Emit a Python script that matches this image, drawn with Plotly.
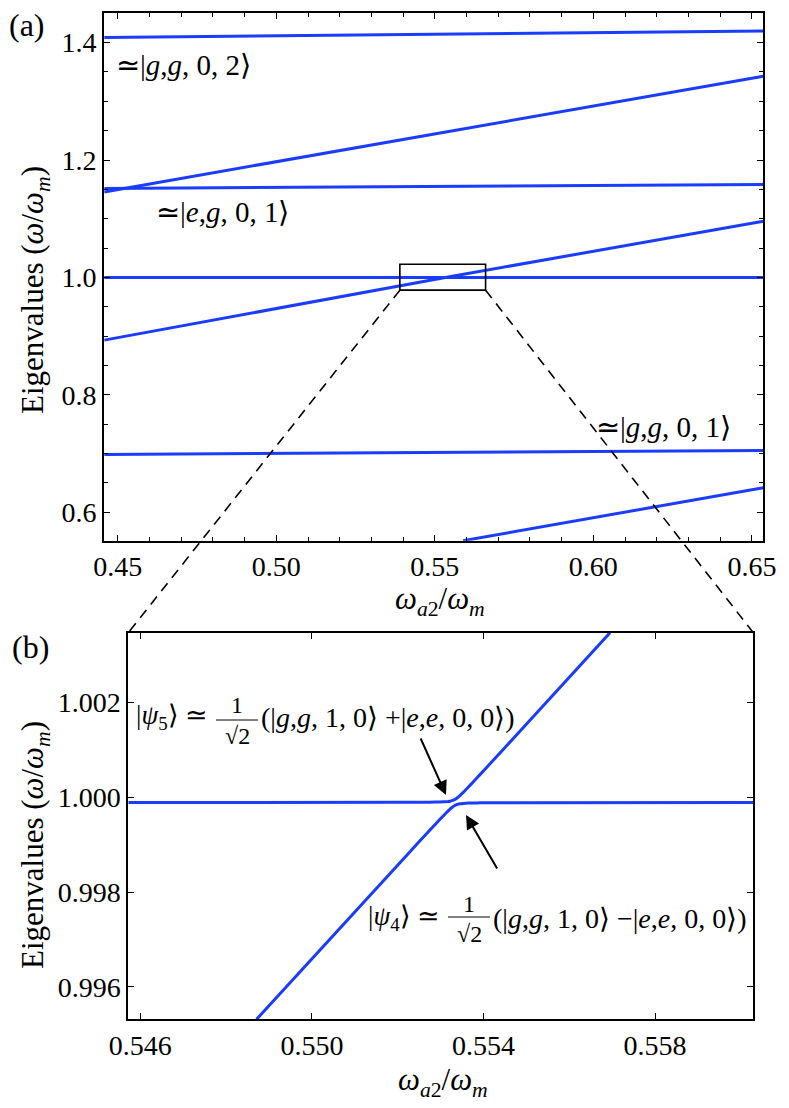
import plotly.graph_objects as go

W, H = 789, 1108

# ---------------- data ----------------
# panel (a): eigenvalue branches vs omega_a2/omega_m
xa_ends = [0.4457, 0.6536]
a_l1 = [1.4085, 1.4197]            # ~|g,g,0,2>
a_l2 = [1.1457, 1.3426]            # rising upper
a_l3 = [1.1515, 1.1583]            # ~|e,g,0,1>
a_l4 = [1.0000, 1.0000]            # flat 1.0
a_l5_x = [0.4457, 0.5533, 0.6536]
a_l5 = [0.8933, 1.0000, 1.0958]    # rising through 1.0
a_l6 = [0.6987, 0.7055]            # ~|g,g,0,1>
a_l7_x = [0.5589, 0.6536]
a_l7 = [0.5517, 0.6419]            # lower rising

a_xticks = [0.45, 0.50, 0.55, 0.60, 0.65]
a_yticks = [0.6, 0.8, 1.0, 1.2, 1.4]
a_xrange = [0.4457, 0.6536]
a_yrange = [0.5517, 1.4499]
zoom_box_x = [0.53896, 0.5660]
zoom_box_y = [0.97838, 1.02264]

# panel (b): avoided crossing
b_up_x = [0.54572, 0.552052, 0.552519, 0.552752, 0.552985, 0.553172, 0.553219,
          0.553265, 0.553331, 0.553359, 0.553405, 0.553452, 0.553529, 0.553592,
          0.553685, 0.553802, 0.553918, 0.554152, 0.554695, 0.556950]
b_up_y = [0.999888, 0.999891, 0.999893, 0.999895, 0.999899, 0.999910, 0.999916,
          0.999926, 0.999951, 0.999966, 0.999998, 1.000035, 1.000102, 1.000161,
          1.000249, 1.000362, 1.000476, 1.000705, 1.001240, 1.003469]
b_lo_x = [0.54871, 0.552052, 0.552519, 0.552752, 0.552985, 0.553172, 0.553219,
          0.553265, 0.553331, 0.553359, 0.553405, 0.553452, 0.553529, 0.553592,
          0.553685, 0.553802, 0.553918, 0.554152, 0.554695, 0.56029]
b_lo_y = [0.995316, 0.998619, 0.999080, 0.999308, 0.999534, 0.999708, 0.999748,
          0.999784, 0.999825, 0.999837, 0.999851, 0.999860, 0.999869, 0.999873,
          0.999877, 0.999879, 0.999881, 0.999883, 0.999885, 0.999888]
b_xticks = [0.546, 0.550, 0.554, 0.558]
b_yticks = [0.996, 0.998, 1.000, 1.002]
b_xrange = [0.54572, 0.56029]
b_yrange = [0.995316, 1.003469]

# ---------------- layout geometry (pixels) ----------------
A_PX = (104.2, 763.3, 13.3, 540.7)   # left, right, top, bottom
B_PX = (128.3, 753.3, 632.7, 1019.3)

def px(x):
    return x / W

def py(y):
    return 1 - y / H

def dom(box):
    l, r, t, b = box
    return [px(l), px(r)], [py(b), py(t)]

a_xd, a_yd = dom(A_PX)
b_xd, b_yd = dom(B_PX)

BLUE = "#1a3cff"
FONT = "Liberation Serif"
line_style = dict(color=BLUE, width=3)

fig = go.Figure()
for xs, ys in [(xa_ends, a_l1), (xa_ends, a_l2), (xa_ends, a_l3), (xa_ends, a_l4),
               (a_l5_x, a_l5), (xa_ends, a_l6), (a_l7_x, a_l7)]:
    fig.add_trace(go.Scatter(x=xs, y=ys, mode="lines", line=line_style,
                             xaxis="x", yaxis="y", showlegend=False, hoverinfo="skip"))
for xs, ys in [(b_up_x, b_up_y), (b_lo_x, b_lo_y)]:
    fig.add_trace(go.Scatter(x=xs, y=ys, mode="lines",
                             line=dict(color=BLUE, width=3, shape="spline", smoothing=0.3),
                             xaxis="x2", yaxis="y2", showlegend=False, hoverinfo="skip"))

axis_common = dict(showline=True, linecolor="black", linewidth=2, mirror="ticks",
                   ticks="inside", ticklen=6, tickwidth=1, tickcolor="black",
                   showgrid=False, zeroline=False,
                   tickfont=dict(family=FONT, size=28, color="black"), automargin=False)

fig.update_layout(
    width=W, height=H, template="none",
    margin=dict(l=0, r=0, t=0, b=0),
    paper_bgcolor="white", plot_bgcolor="white",
    showlegend=False,
    font=dict(family=FONT, size=26, color="black"),
    xaxis=dict(domain=a_xd, range=a_xrange, tickvals=a_xticks, tickformat=".2f",
               anchor="y", minor=dict(dtick=0.01, tick0=0.45, ticks="inside", ticklen=4,
                                      tickcolor="black"),
               **axis_common),
    yaxis=dict(domain=a_yd, range=a_yrange, tickvals=a_yticks, tickformat=".1f",
               anchor="x", minor=dict(dtick=0.05, tick0=0.6, ticks="inside", ticklen=4,
                                      tickcolor="black"),
               **axis_common),
    xaxis2=dict(domain=b_xd, range=b_xrange, tickvals=b_xticks, tickformat=".3f",
                anchor="y2", **axis_common),
    yaxis2=dict(domain=b_yd, range=b_yrange, tickvals=b_yticks, tickformat=".3f",
                anchor="x2", **axis_common),
)

# zoom box in panel (a)
fig.add_shape(type="rect", xref="x", yref="y",
              x0=zoom_box_x[0], x1=zoom_box_x[1], y0=zoom_box_y[0], y1=zoom_box_y[1],
              line=dict(color="black", width=1.6))

def a_to_paper(x, y):
    fx = a_xd[0] + (x - a_xrange[0]) / (a_xrange[1] - a_xrange[0]) * (a_xd[1] - a_xd[0])
    fy = a_yd[0] + (y - a_yrange[0]) / (a_yrange[1] - a_yrange[0]) * (a_yd[1] - a_yd[0])
    return fx, fy

bl = a_to_paper(zoom_box_x[0], zoom_box_y[0])
br = a_to_paper(zoom_box_x[1], zoom_box_y[0])
for (x0, y0), x1 in [(bl, b_xd[0]), (br, b_xd[1])]:
    fig.add_shape(type="line", xref="paper", yref="paper", x0=x0, y0=y0, x1=x1, y1=b_yd[1],
                  line=dict(color="black", width=1.6, dash="10px,7px"))

def ann(text, x, y, size=26, xanchor="center", yanchor="middle", angle=0):
    fig.add_annotation(text=text, x=px(x), y=py(y), xref="paper", yref="paper",
                       showarrow=False, xanchor=xanchor, yanchor=yanchor, textangle=angle,
                       font=dict(family=FONT, size=size, color="black"))

ann("(a)", 27, 25, size=32)
ann("(b)", 30, 647, size=32)

ann("≃|<i>g</i>,<i>g</i>, 0, 2⟩", 114, 65, size=29, xanchor="left")
ann("≃|<i>e</i>,<i>g</i>, 0, 1⟩", 154, 212, size=29, xanchor="left")
ann("≃|<i>g</i>,<i>g</i>, 0, 1⟩", 594, 427, size=29, xanchor="left")

xtitle = "<i>ω</i><sub><i>a</i>2</sub>/<i>ω</i><sub><i>m</i></sub>"
ytitle = "Eigenvalues (<i>ω</i>/<i>ω</i><sub><i>m</i></sub>)"
ann(xtitle, 440, 601, size=31)
ann(xtitle, 443, 1082, size=31)
ann(ytitle, 35, 290, size=31, angle=-90)
ann(ytitle, 35, 845, size=31, angle=-90)

# state labels with fractions
def frac_label(left_text, right_text, x_bar0, x_bar1, y_mid, y_num, y_bar, y_den):
    xc = (x_bar0 + x_bar1) / 2
    ann(left_text, x_bar0 - 6, y_mid, size=27, xanchor="right")
    ann("1", xc, y_num, size=24)
    ann("√2", xc, y_den, size=24)
    fig.add_shape(type="line", xref="paper", yref="paper",
                  x0=px(x_bar0), x1=px(x_bar1), y0=py(y_bar), y1=py(y_bar),
                  line=dict(color="black", width=1))
    ann(right_text, x_bar1 + 1, y_mid, size=28, xanchor="left")

frac_label("|<i>ψ</i><sub>5</sub>⟩ ≃",
           "(|<i>g</i>,<i>g</i>, 1, 0⟩ +|<i>e</i>,<i>e</i>, 0, 0⟩)",
           216, 258, 717, 705, 720, 736)
frac_label("|<i>ψ</i><sub>4</sub>⟩ ≃",
           "(|<i>g</i>,<i>g</i>, 1, 0⟩ −|<i>e</i>,<i>e</i>, 0, 0⟩)",
           448, 490, 918, 904, 917, 934)

# arrows
for tip, tail in [((446, 795), (420, 737)), ((466, 815), (498, 870))]:
    fig.add_annotation(x=px(tip[0]), y=py(tip[1]), xref="paper", yref="paper",
                       ax=tail[0] - tip[0], ay=tail[1] - tip[1], axref="pixel", ayref="pixel",
                       showarrow=True, arrowhead=2, arrowsize=1.4, arrowwidth=2,
                       arrowcolor="black", text="", standoff=0)

fig.write_html("out.html", config={"displayModeBar": False},
               post_script="document.body.style.margin='0';document.body.style.overflow='hidden';")
